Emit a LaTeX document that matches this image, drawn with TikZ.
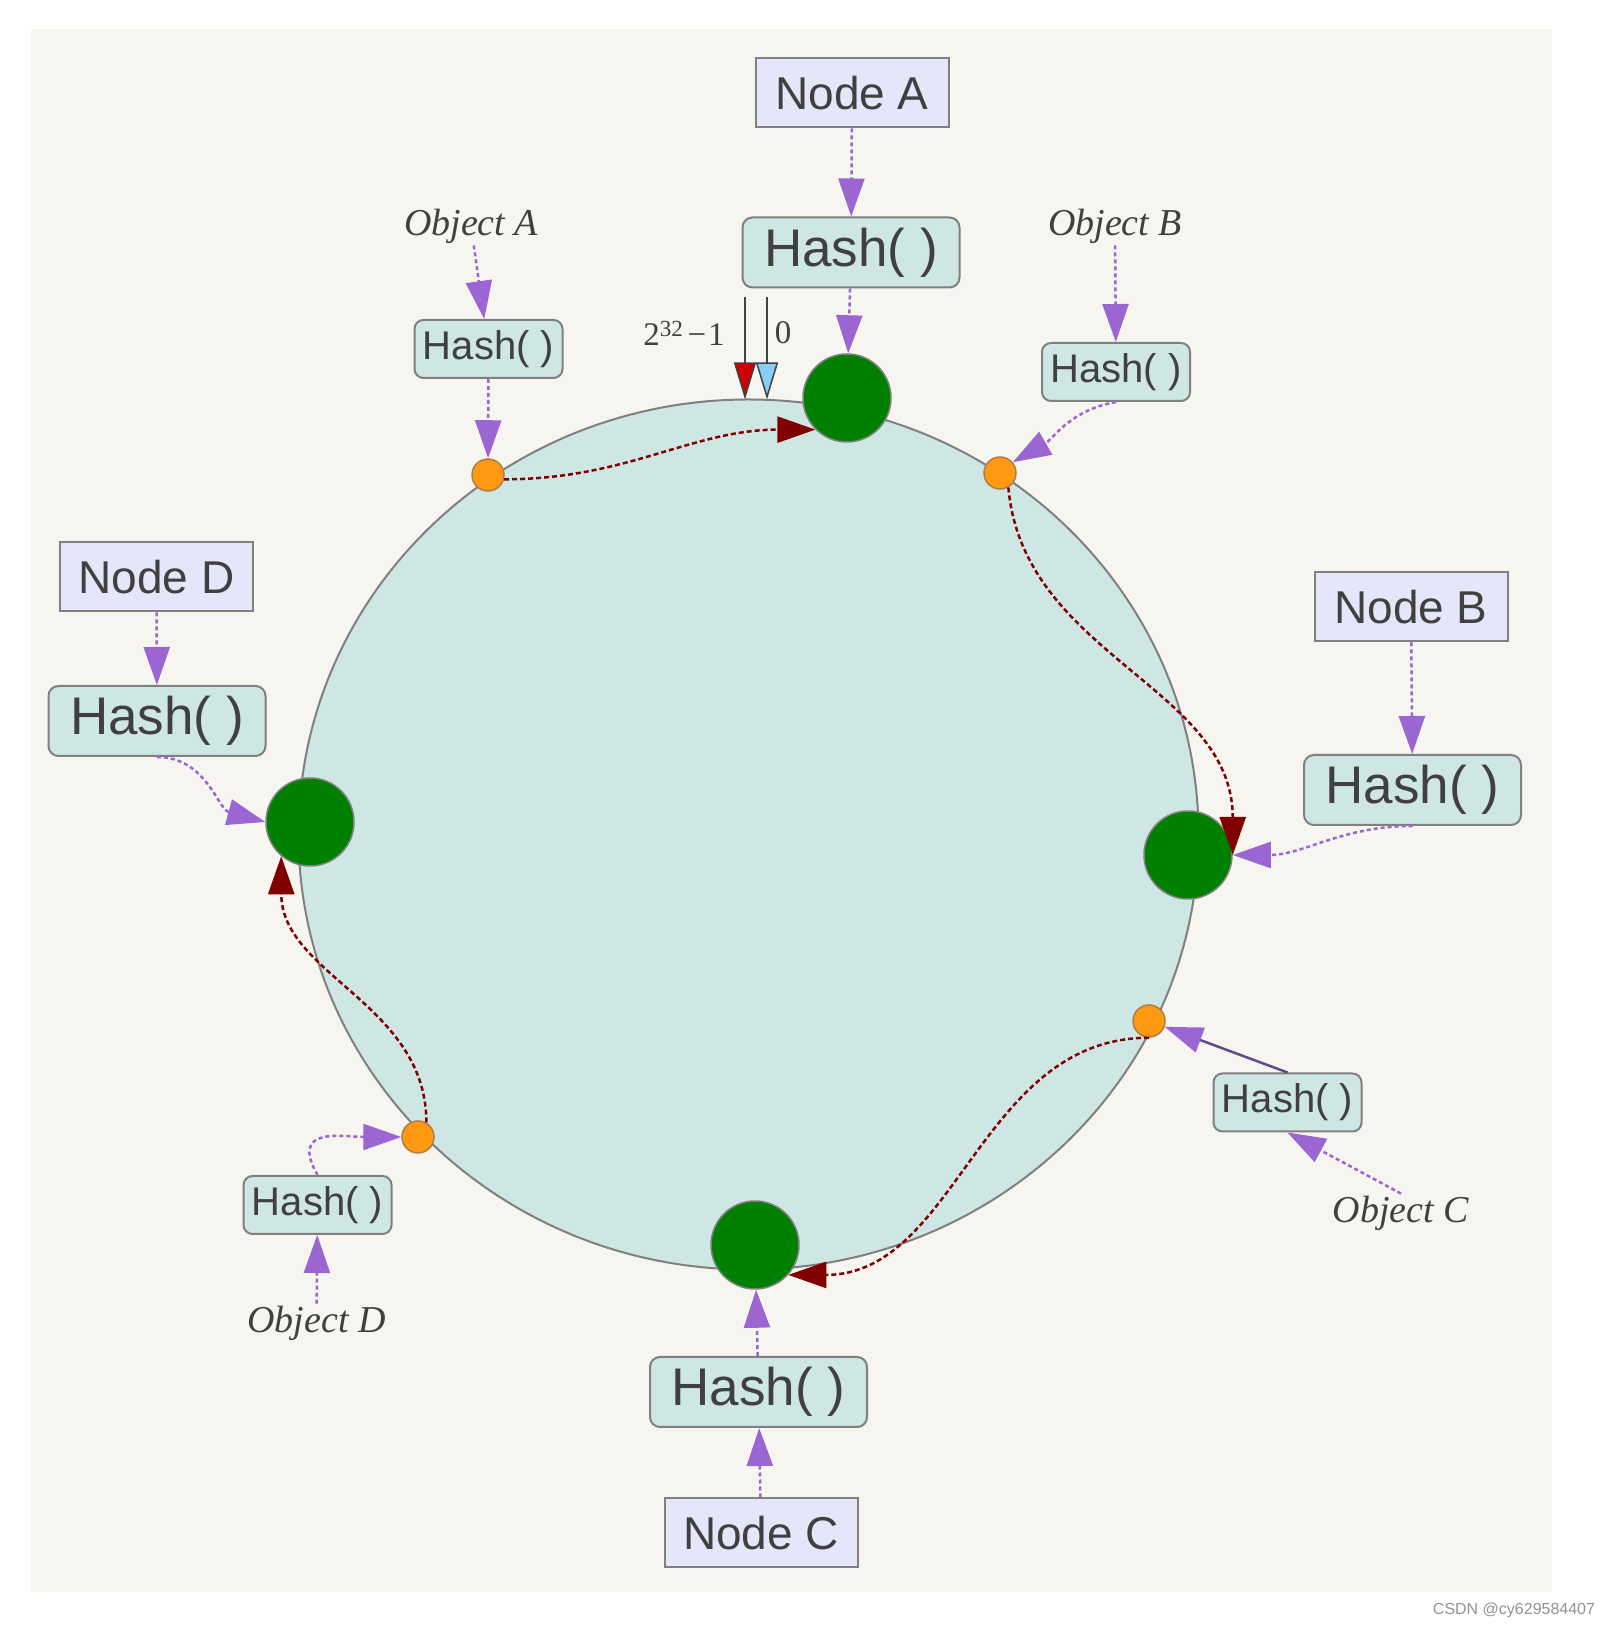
\documentclass[tikz,border=0pt]{standalone}
\usepackage{fontspec}
\setmainfont{Liberation Serif}
\setsansfont{Liberation Sans}
\usetikzlibrary{arrows.meta}
\usetikzlibrary{positioning}
\definecolor{panelbg}{RGB}{246, 245, 240}
\definecolor{ringfill}{RGB}{207, 231, 228}
\definecolor{boxlav}{RGB}{230, 230, 250}
\definecolor{edgegray}{RGB}{128, 128, 128}
\definecolor{srvgreen}{RGB}{0, 128, 0}
\definecolor{keyorange}{RGB}{255, 153, 18}
\definecolor{keyedge}{RGB}{175, 125, 70}
\definecolor{hashpurple}{RGB}{155, 102, 210}
\definecolor{hashdark}{RGB}{95, 75, 140}
\definecolor{mapred}{RGB}{128, 0, 0}
\definecolor{inkgray}{RGB}{64, 64, 64}
\definecolor{maxred}{RGB}{204, 0, 0}
\definecolor{zeroblue}{RGB}{135, 206, 250}
\tikzset{nodebox/.style = {draw = edgegray, fill = boxlav, line width = 2pt, minimum width = 193pt, minimum height = 69pt, text = inkgray, font = \fontsize{46}{50}\selectfont\sffamily}}
\tikzset{bighash/.style = {draw = edgegray, fill = ringfill, line width = 2pt, rounded corners = 10pt, minimum width = 217pt, minimum height = 70pt, text = inkgray, font = \fontsize{53}{58}\selectfont\sffamily}}
\tikzset{smallhash/.style = {draw = edgegray, fill = ringfill, line width = 2pt, rounded corners = 9pt, minimum width = 148pt, minimum height = 58pt, text = inkgray, font = \fontsize{40}{44}\selectfont\sffamily}}
\tikzset{objlabel/.style = {text = inkgray, inner sep = 2pt, font = \fontsize{38}{42}\selectfont\itshape}}
\tikzset{numlabel/.style = {text = inkgray, inner sep = 0, font = \fontsize{33}{36}\selectfont}}
\tikzset{server/.style = {circle, draw = edgegray, fill = srvgreen, line width = 1.5pt, minimum size = 88pt, inner sep = 0}}
\tikzset{objkey/.style = {circle, draw = keyedge, fill = keyorange, line width = 1.5pt, minimum size = 32pt, inner sep = 0}}
\tikzset{hasharrow/.style = {hashpurple, line width = 2.5pt, dash pattern = on 4pt off 3pt, -{Triangle[length = 38pt, width = 26pt]}}}
\tikzset{solidarrow/.style = {hashdark, line width = 2.5pt, -{Triangle[length = 38pt, width = 26pt, color = hashpurple]}}}
\tikzset{maparrow/.style = {mapred, line width = 2.5pt, dash pattern = on 5pt off 3pt, -{Triangle[length = 38pt, width = 26pt]}}}
\tikzset{limitline/.style = {draw = inkgray, line width = 1.5pt}}

\begin{document}
\begin{tikzpicture}[x = 1pt, y = 1pt]
    \fill [white] (0, 0) rectangle (1614, 1630);
    \useasboundingbox (0, 0) rectangle (1614, 1630);
    \fill [panelbg] (31, 38) rectangle (1552, 1601);
    \draw [edgegray, fill = ringfill, line width = 2pt] (748.5, 795.5) ellipse [x radius = 450pt, y radius = 435pt];

    \node [server] (srvA) at (847, 1232) {};
    \node [server] (srvB) at (1188, 775) {};
    \node [server] (srvC) at (755, 385) {};
    \node [server] (srvD) at (310, 808) {};

    \node [objkey] (keyA) at (488, 1155) {};
    \node [objkey] (keyB) at (1000, 1157) {};
    \node [objkey] (keyC) at (1149, 609) {};
    \node [objkey] (keyD) at (418, 493) {};

    \node [nodebox] (nodeA) at (852, 1537) {Node A};
    \node [nodebox] (nodeB) at (1411, 1023) {Node B};
    \node [nodebox] (nodeC) at (761, 97) {Node C};
    \node [nodebox] (nodeD) at (156.5, 1053) {Node D};

    \node [bighash] (hashA) at (851, 1377.5) {Hash( )};
    \node [bighash] (hashB) at (1412.5, 840) {Hash( )};
    \node [bighash] (hashC) at (758.5, 238) {Hash( )};
    \node [bighash] (hashD) at (157, 909) {Hash( )};

    \node [smallhash] (hashObjA) at (488.5, 1281) {Hash( )};
    \node [smallhash] (hashObjB) at (1116, 1258) {Hash( )};
    \node [smallhash] (hashObjC) at (1287.5, 527.5) {Hash( )};
    \node [smallhash] (hashObjD) at (317.5, 425) {Hash( )};

    \node [objlabel] (objA) at (471, 1404) {Object A};
    \node [objlabel] (objB) at (1115, 1404) {Object B};
    \node [objlabel] (objC) at (1401, 417) {Object C};
    \node [objlabel] (objD) at (316.5, 307) {Object D};

    \coordinate (maxtop) at (745, 1333);
    \coordinate (maxend) at (745, 1230.5);
    \coordinate (zerotop) at (767, 1333);
    \coordinate (zeroend) at (767, 1230.5);
    \draw [limitline, -{Triangle[length = 37pt, width = 22pt, fill = maxred]}] (maxtop) -- (maxend);
    \draw [limitline, -{Triangle[length = 37pt, width = 22pt, fill = zeroblue]}] (zerotop) -- (zeroend);
    \node [numlabel] (maxlabel) at (684, 1297) {2\textsuperscript{32}\kern4pt−\kern2pt1};
    \node [numlabel] (zerolabel) at (783, 1297) {0};

    \draw [hasharrow] (nodeA) -- (hashA);
    \draw [hasharrow] (hashA) -- (srvA);
    \draw [hasharrow] (nodeB) -- (hashB);
    \draw [hasharrow] (hashB.south) to [out = 180, in = 0] (srvB.east);
    \draw [hasharrow] (nodeC) -- (hashC);
    \draw [hasharrow] (hashC) -- (srvC);
    \draw [hasharrow] (nodeD) -- (hashD);
    \draw [hasharrow] (hashD.south) to [out = 0, in = 165] (srvD.west);

    \draw [hasharrow] (objA) -- (hashObjA);
    \draw [hasharrow] (hashObjA) -- (keyA);
    \draw [hasharrow] (objB) -- (hashObjB);
    \draw [hasharrow] (hashObjB.south) to [out = 190, in = 30] (keyB.40);
    \draw [hasharrow] (objC.north) -- (hashObjC.south);
    \draw [solidarrow] (hashObjC.north) -- (keyC);
    \draw [hasharrow] (objD) -- (hashObjD);
    \draw [hasharrow] (hashObjD.north) to [out = 120, in = 180, looseness = 1.6] (keyD.west);

    \draw [maparrow] (keyA.-15) to [out = 0, in = 180] (srvA.south west);
    \draw [maparrow] (keyB.-60) to [out = -85, in = 90] (srvB.east);
    \draw [maparrow] (keyC.south) to [out = 180, in = 0] (srvC.-42);
    \draw [maparrow] (keyD.60) to [out = 90, in = -90] (srvD.230);

    \node [text = gray!85, font = \fontsize{16}{18}\selectfont\sffamily] (mark) at (1514, 20) {CSDN @cy629584407};
  \end{tikzpicture}
\end{document}
